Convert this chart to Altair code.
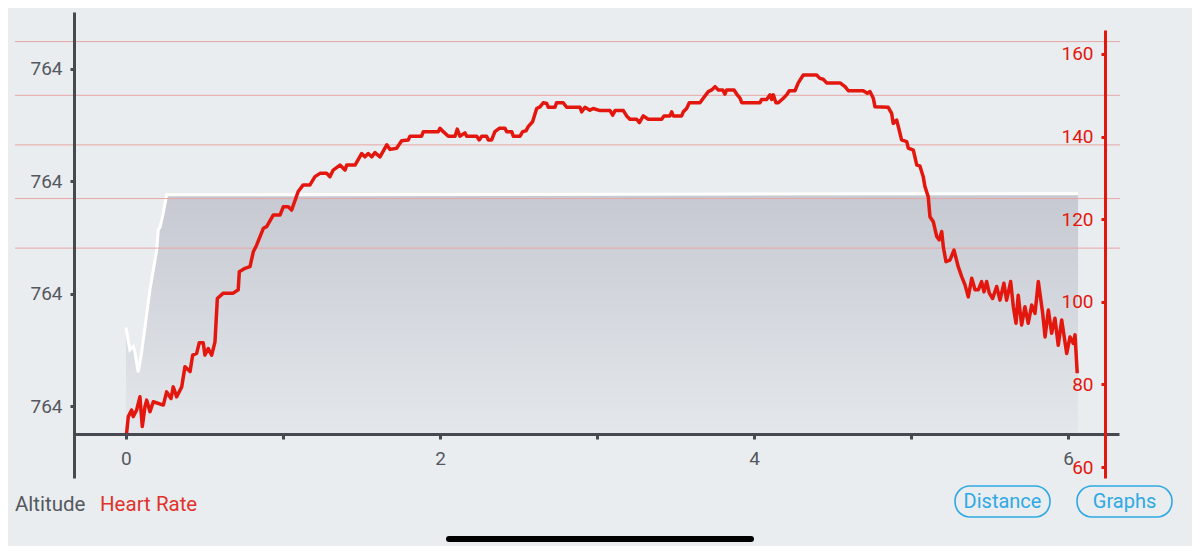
import altair as alt
import pandas as pd

# ---------------- data ----------------
# Altitude profile (distance km, altitude m)
alt_dist = [0.0, 0.025, 0.047, 0.057, 0.078, 0.100, 0.153, 0.196, 0.206, 0.217, 0.238, 0.259, 6.064]
alt_m = [764.070, 764.050, 764.053, 764.048, 764.030, 764.048, 764.104, 764.139, 764.157, 764.159,
         764.172, 764.188, 764.189]

# Heart rate trace (distance km, bpm)
hr_dist = [0.004, 0.015, 0.036, 0.046, 0.068, 0.089, 0.104, 0.121, 0.132, 0.153,
           0.174, 0.238, 0.259, 0.287, 0.301, 0.323, 0.355, 0.376, 0.408, 0.425,
           0.450, 0.467, 0.492, 0.503, 0.524, 0.546, 0.567, 0.582, 0.620, 0.683,
           0.715, 0.722, 0.758, 0.790, 0.811, 0.832, 0.875, 0.896, 0.938, 0.981,
           1.002, 1.034, 1.055, 1.097, 1.129, 1.172, 1.204, 1.236, 1.278, 1.299,
           1.320, 1.363, 1.395, 1.406, 1.459, 1.501, 1.522, 1.543, 1.565, 1.586,
           1.618, 1.661, 1.682, 1.724, 1.756, 1.798, 1.809, 1.883, 1.894, 1.989,
           2.000, 2.021, 2.053, 2.096, 2.110, 2.127, 2.159, 2.170, 2.234, 2.250,
           2.266, 2.297, 2.308, 2.329, 2.350, 2.378, 2.414, 2.425, 2.457, 2.467,
           2.510, 2.527, 2.548, 2.562, 2.590, 2.616, 2.637, 2.658, 2.680, 2.690,
           2.732, 2.743, 2.785, 2.807, 2.892, 2.903, 2.924, 2.955, 2.976, 3.019,
           3.083, 3.100, 3.115, 3.168, 3.189, 3.210, 3.253, 3.270, 3.295, 3.327,
           3.412, 3.427, 3.465, 3.476, 3.486, 3.539, 3.550, 3.571, 3.588, 3.656,
           3.677, 3.709, 3.731, 3.752, 3.773, 3.801, 3.815, 3.826, 3.873, 3.890,
           3.911, 3.922, 4.038, 4.049, 4.081, 4.102, 4.113, 4.123, 4.140, 4.155,
           4.187, 4.208, 4.225, 4.261, 4.282, 4.314, 4.399, 4.420, 4.441, 4.463,
           4.548, 4.580, 4.601, 4.696, 4.722, 4.739, 4.760, 4.771, 4.855, 4.877,
           4.887, 4.909, 4.930, 4.940, 4.973, 4.983, 5.015, 5.037, 5.057, 5.078,
           5.089, 5.110, 5.121, 5.142, 5.164, 5.180, 5.196, 5.206, 5.223, 5.248,
           5.274, 5.301, 5.323, 5.344, 5.365, 5.387, 5.408, 5.429, 5.450, 5.465,
           5.482, 5.499, 5.520, 5.546, 5.567, 5.592, 5.609, 5.635, 5.652, 5.669,
           5.683, 5.705, 5.726, 5.747, 5.769, 5.790, 5.811, 5.839, 5.854, 5.875,
           5.896, 5.917, 5.938, 5.960, 5.992, 6.013, 6.034, 6.045, 6.059]
hr_bpm = [68.2, 72.2, 73.8, 72.2, 73.8, 77.0, 69.8, 74.6, 76.2, 73.4,
          75.8, 75.0, 78.2, 76.6, 79.4, 77.0, 79.4, 84.3, 83.1, 87.1,
          87.5, 90.1, 90.1, 87.1, 88.7, 87.1, 90.3, 100.8, 102.1, 102.1,
          102.9, 107.3, 108.1, 108.5, 112.1, 113.7, 117.8, 118.2, 121.0, 121.0,
          123.0, 123.0, 122.2, 126.7, 128.3, 128.3, 130.3, 131.1, 131.1, 130.3,
          131.9, 133.1, 131.9, 133.1, 133.1, 135.9, 135.1, 135.9, 135.1, 136.1,
          135.1, 138.0, 136.9, 137.2, 139.0, 139.2, 140.1, 140.1, 141.2, 141.2,
          142.0, 141.2, 140.1, 140.1, 141.8, 140.1, 140.9, 140.1, 140.1, 139.2,
          140.1, 140.1, 139.2, 139.2, 141.2, 142.0, 142.0, 141.2, 141.2, 140.1,
          140.1, 141.2, 141.4, 142.4, 143.6, 146.8, 147.2, 148.2, 148.0, 147.1,
          147.1, 148.2, 148.2, 147.1, 147.1, 146.0, 147.1, 146.4, 146.8, 146.3,
          146.3, 145.2, 146.3, 146.3, 145.0, 144.2, 144.2, 143.4, 145.0, 144.2,
          144.2, 145.0, 145.0, 146.0, 145.0, 145.0, 146.0, 146.8, 148.2, 148.2,
          149.3, 150.9, 151.3, 152.1, 151.3, 151.3, 150.3, 151.3, 151.3, 150.3,
          149.3, 148.2, 148.2, 149.0, 149.0, 150.1, 149.0, 150.1, 148.2, 148.2,
          149.3, 150.1, 151.1, 151.1, 153.0, 154.9, 154.9, 154.1, 153.9, 153.0,
          153.0, 152.1, 151.1, 151.1, 150.5, 150.9, 149.3, 147.2, 147.1, 145.6,
          143.2, 144.0, 140.8, 139.2, 138.8, 137.2, 136.7, 133.1, 132.9, 130.3,
          127.9, 125.4, 120.6, 119.4, 115.8, 115.0, 117.0, 113.3, 109.7, 110.1,
          112.5, 108.5, 106.1, 104.1, 101.2, 105.7, 102.9, 102.9, 104.9, 102.4,
          104.9, 102.1, 100.8, 103.7, 100.4, 104.5, 100.4, 104.9, 98.8, 94.8,
          101.6, 94.4, 98.8, 94.8, 99.2, 97.2, 104.9, 97.2, 91.5, 98.0,
          92.4, 96.0, 89.5, 95.6, 87.5, 91.5, 89.9, 92.0, 82.7]

# Heart-rate zone lines (bpm)
zone_lines = [113, 125, 138, 150, 163]
zone_start, zone_end = -0.707, 6.331

# Axis ticks / labels
x_ticks = [0, 1, 2, 3, 4, 5, 6]
alt_ticks = [764.0, 764.1, 764.2, 764.3]
hr_ticks = [60, 80, 100, 120, 140, 160]
legend_labels = ["Altitude", "Heart Rate"]
button_labels = ["Distance", "Graphs"]

# ---------------- styling ----------------
BG = "#e9edf0"
AXIS_GRAY = "#46494f"
LABEL_GRAY = "#55585e"
RED = "#e3170e"
ZONE_RED = "#e9a5a5"
BLUE = "#2fa9e3"
FONT = "Roboto"

W, H = 1184, 538

alt_df = pd.DataFrame({"dist": alt_dist, "alt": alt_m})
hr_df = pd.DataFrame({"dist": hr_dist, "hr": hr_bpm})
zone_df = pd.DataFrame({"hr": zone_lines, "start": [zone_start] * len(zone_lines),
                        "end": [zone_end] * len(zone_lines)})

xscale = alt.Scale(domain=[-0.331, 6.325], range=[66, 1111], nice=False, zero=False)
xaxis = alt.Axis(values=x_ticks, labelExpr="datum.value % 2 == 0 ? datum.label : ''",
                 title=None, grid=False, offset=-112, domainColor=AXIS_GRAY, domainWidth=3,
                 tickColor=AXIS_GRAY, tickWidth=3, tickSize=5, labelColor=LABEL_GRAY,
                 labelFontSize=19, labelFont=FONT, labelPadding=10, labelFlush=False,
                 zindex=1)


def xenc(field):
    return alt.X(field, type="quantitative", scale=xscale, axis=xaxis)


alt_scale = alt.Scale(domain=[763.936, 764.3507], range=[470, 4], nice=False, zero=False)
alt_axis = alt.Axis(values=alt_ticks, format=".0f", orient="left", offset=-66, title=None,
                    grid=False, domainColor=AXIS_GRAY, domainWidth=3, tickColor=AXIS_GRAY,
                    tickWidth=3, tickSize=4, labelColor=LABEL_GRAY, labelFontSize=19,
                    labelFont=FONT, labelPadding=8, zindex=1)
hr_scale = alt.Scale(domain=[57.34, 165.81], range=[470, 22], nice=False, zero=False)
hr_axis = alt.Axis(values=hr_ticks, orient="left", offset=-1097, title=None, grid=False,
                   domainColor=RED, domainWidth=3, tickColor=RED, tickWidth=3, tickSize=4,
                   labelColor=RED, labelFontSize=19, labelFont=FONT, labelPadding=8,
                   zindex=1)

gradient = alt.Gradient(gradient="linear",
                        stops=[alt.GradientStop(color="#c6c9d1", offset=0),
                               alt.GradientStop(color="#e4e7eb", offset=1)],
                        x1=1, x2=1, y1=0, y2=1)

area = alt.Chart(alt_df).mark_area(fill=gradient, interpolate="linear").encode(
    x=xenc("dist"),
    y=alt.Y("alt:Q", scale=alt_scale, axis=alt_axis),
    y2=alt.datum(763.975),
)
alt_line = alt.Chart(alt_df).mark_line(color="white", strokeWidth=3, interpolate="linear").encode(
    x=xenc("dist"),
    y=alt.Y("alt:Q", scale=alt_scale, axis=alt_axis),
)
alt_group = alt.layer(area, alt_line)

zones = alt.Chart(zone_df).mark_rule(color=ZONE_RED, strokeWidth=1).encode(
    x=xenc("start"),
    x2=alt.X2("end"),
    y=alt.Y("hr:Q", scale=hr_scale, axis=hr_axis),
)
hr_line = alt.Chart(hr_df).mark_line(color=RED, strokeWidth=3.5, strokeJoin="round",
                                     interpolate="linear").encode(
    x=xenc("dist"),
    y=alt.Y("hr:Q", scale=hr_scale, axis=hr_axis),
)
hr_group = alt.layer(zones, hr_line)

one = pd.DataFrame({"k": [0]})


def label(text, x, y, color, align="left", size=20.5):
    return alt.Chart(one).mark_text(text=text, align=align, baseline="middle", font=FONT,
                                    fontSize=size, color=color).encode(
        x=alt.value(x), y=alt.value(y))


def button(x0, x1, y0, y1):
    return alt.Chart(one).mark_rect(cornerRadius=15, fillOpacity=0, stroke=BLUE,
                                    strokeWidth=1.6).encode(
        x=alt.value(x0), x2=alt.value(x1), y=alt.value(y0), y2=alt.value(y1))


chrome = [
    label(legend_labels[0], 7, 497, LABEL_GRAY),
    label(legend_labels[1], 92, 497, "#e0332c"),
    button(947, 1042, 478, 509),
    label(button_labels[0], 994.5, 494, BLUE, align="center", size=20),
    button(1069, 1164, 478, 509),
    label(button_labels[1], 1116.5, 494, BLUE, align="center", size=20),
    alt.Chart(one).mark_rule(color="black", strokeWidth=6, strokeCap="round").encode(
        x=alt.value(441), x2=alt.value(743), y=alt.value(531)),
]

chart = alt.layer(alt_group, hr_group, *chrome).resolve_scale(y="independent").properties(
    width=W, height=H, padding=0, background=BG,
    autosize=alt.AutoSizeParams(type="none"),
).configure_view(stroke=None)

chart.save("out.html", embed_options={"renderer": "svg", "actions": False})
